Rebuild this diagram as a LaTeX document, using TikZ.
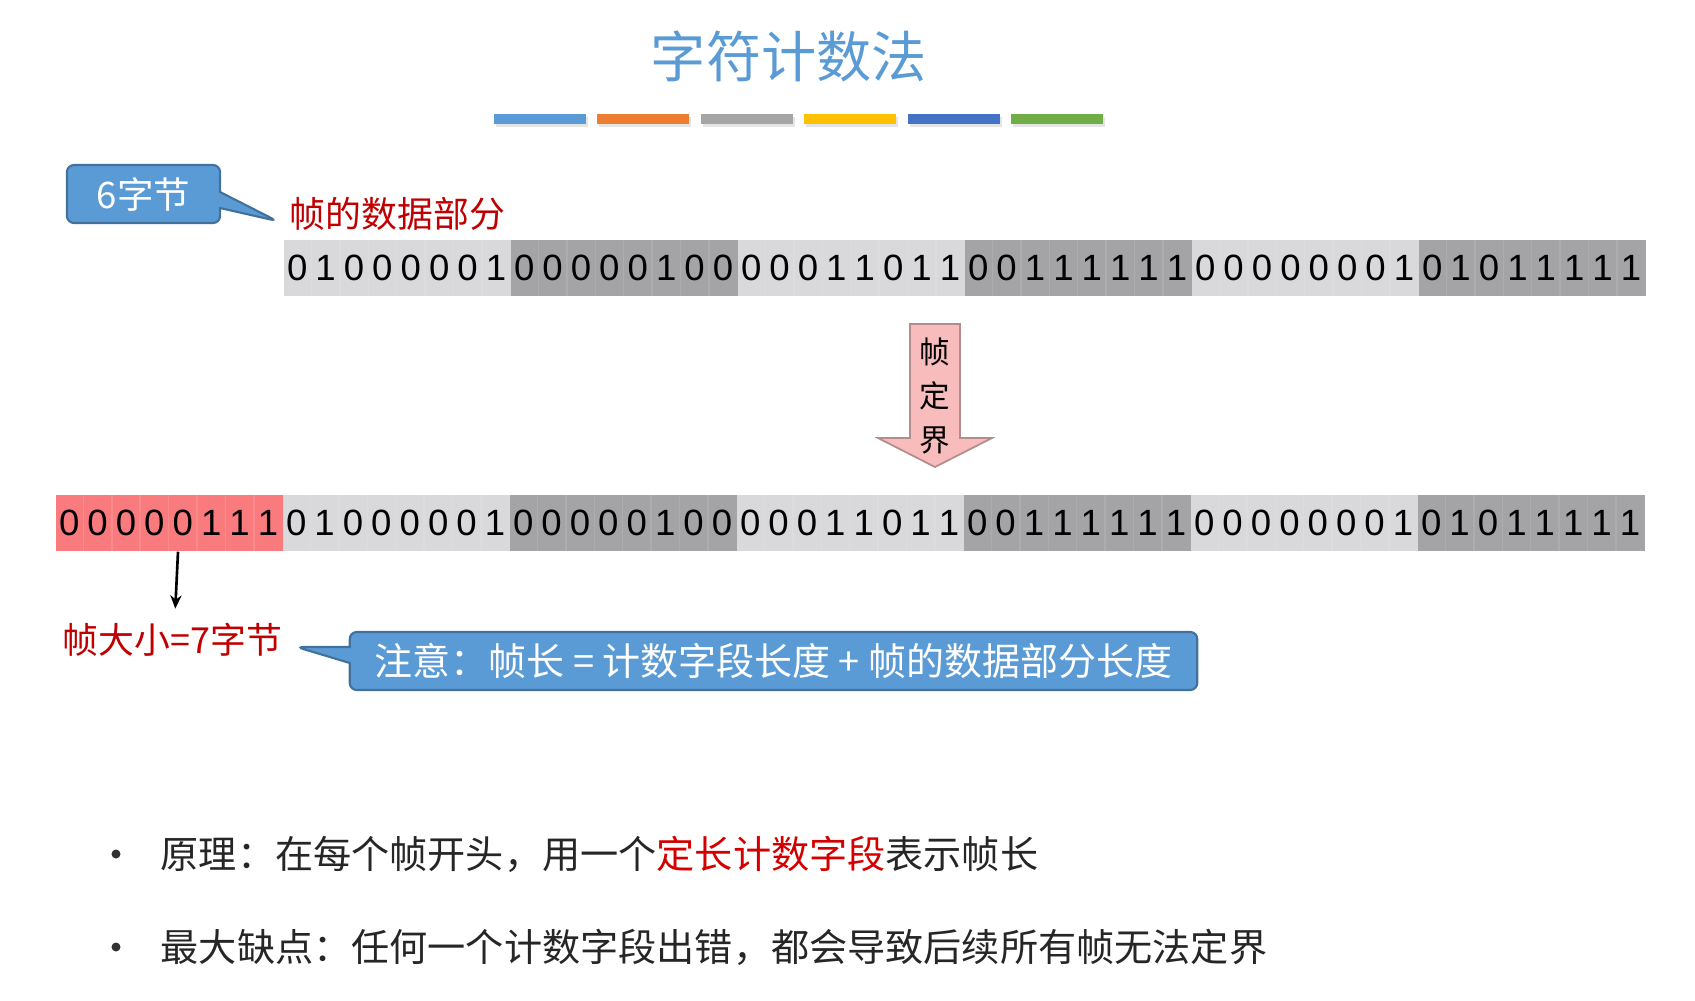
\documentclass[tikz,border=0pt]{standalone}
\usepackage{fontspec}
\setmainfont{Noto Sans CJK SC}
\newfontfamily\bitfont{Liberation Sans}
\usepackage{xcolor}
\usetikzlibrary{arrows.meta,positioning,calc,shapes.callouts}

\definecolor{ttlblue}{HTML}{5B9BD5}
\definecolor{boxblue}{HTML}{5B9BD5}
\definecolor{boxedge}{HTML}{41719C}
\definecolor{lgray}{HTML}{D9D8DB}
\definecolor{dgray}{HTML}{A4A3A6}
\definecolor{cntred}{HTML}{FA7B7E}
\definecolor{txtred}{HTML}{C00000}
\definecolor{hotred}{HTML}{D40000}
\definecolor{arrpink}{HTML}{F8BCBD}
\definecolor{arredge}{HTML}{B48C8C}
\definecolor{barblue}{HTML}{5B9BD5}
\definecolor{barorange}{HTML}{ED7D31}
\definecolor{bargray}{HTML}{A5A5A5}
\definecolor{baryellow}{HTML}{FFC000}
\definecolor{bardblue}{HTML}{4472C4}
\definecolor{bargreen}{HTML}{70AD47}

\begin{document}
\begin{tikzpicture}[x=0.01cm, y=-0.01cm, >={Stealth[length=3.8pt,width=3.2pt]},
  grp/.style={rectangle,minimum width=2.27cm,minimum height=0.56cm,inner sep=0pt,anchor=west},
  bit/.style={inner sep=0pt,font=\bitfont\fontsize{10.4}{12}\selectfont},
  callbox/.style={rectangle callout,rounded corners=0.07cm,fill=boxblue,draw=boxedge,
    line width=0.6pt,text=white,inner sep=0pt,callout pointer width=0.16cm},
  redlbl/.style={text=txtred,font=\fontsize{10.2}{12}\selectfont,inner sep=0pt},
  bullet/.style={anchor=west,inner sep=0pt,font=\fontsize{10.85}{13}\selectfont,text=black!85}]
  \useasboundingbox (0,0) rectangle (1695,1000);
  % Title and colour bars
  \node[font=\fontsize{15.7}{18}\selectfont,text=ttlblue] (title) at (789,56) {字符计数法};
  \foreach \c [count=\k] in {barblue,barorange,bargray,baryellow,bardblue,bargreen} {
    \fill[black!10] (496+\k*103.4-103.4,117) rectangle ++(92,10);
    \fill[\c] (494+\k*103.4-103.4,114) rectangle ++(92,10);
  }
  % Count field of the framed row
  \node[grp,fill=cntred] (b0) at (55,523) {};
  \foreach \b [count=\i] in {0,0,0,0,0,1,1,1} {
    \node[bit] (b0-\i) at (55+\i*28.4-14.2,523) {\b};
    \ifnum\i<8 \draw[white,opacity=0.12] (55+\i*28.4,495) -- ++(0,56); \fi
  }
  % Data bytes: top row t, framed row b
  \foreach \r/\y/\xa in {t/268/283,b/523/282} {
    \foreach \col/\bits [count=\k] in {lgray/{0,1,0,0,0,0,0,1},dgray/{0,0,0,0,0,1,0,0},
        lgray/{0,0,0,1,1,0,1,1},dgray/{0,0,1,1,1,1,1,1},lgray/{0,0,0,0,0,0,0,1},dgray/{0,1,0,1,1,1,1,1}} {
      \node[grp,fill=\col] (\r\k) at (\xa+\k*227-227,\y) {};
      \foreach \b [count=\i] in \bits {
        \node[bit] (\r\k-\i) at (\xa+\k*227-227+\i*28.4-14.2,\y) {\b};
        \ifnum\i<8 \draw[white,opacity=0.1] (\xa+\k*227-227+\i*28.4,\y-28) -- ++(0,56); \fi
      }
    }
  }
  % Data part label and its callout
  \node[redlbl,anchor=west] (datalbl) at (289,214) {帧的数据部分};
  \coordinate (tip6) at ($(datalbl.west)+(-12,7)$);
  \node[callbox,minimum width=1.53cm,minimum height=0.58cm,callout absolute pointer={(tip6)},
    font=\fontsize{10.4}{12}\selectfont] (six) at (143.5,194) {6字节};
  % Framing arrow
  \filldraw[fill=arrpink,draw=arredge,line width=0.5pt] (910,324) -- (960,324) -- (960,438)
    -- (992,438) -- (935,467) -- (878,438) -- (910,438) -- cycle;
  \node[align=center,inner sep=0pt,font=\fontsize{8.7}{12.5}\selectfont] (bound) at (935,396) {帧\\定\\界};
  % Frame size label and note
  \node[redlbl,anchor=west] (sizelbl) at (62,640) {帧大小=7字节};
  \draw[->,line width=0.75pt] ($(b0.south west)+(123,0)$) -- ($(sizelbl.north)+(3,-14)$);
  \coordinate (tipnote) at ($(sizelbl.east)+(14,7)$);
  \node[callbox,minimum width=8.47cm,minimum height=0.58cm,callout absolute pointer={(tipnote)},
    font=\fontsize{10.8}{12}\selectfont] (note) at (773.5,661) {注意：帧长 = 计数字段长度 + 帧的数据部分长度};
  % Bullets
  \node[circle,fill=black!80,inner sep=0pt,minimum size=0.09cm] (dot1) at (116,854) {};
  \node[bullet] (rule1) at (160,854) {原理：在每个帧开头，用一个\textcolor{hotred}{定长计数字段}表示帧长};
  \node[circle,fill=black!80,inner sep=0pt,minimum size=0.09cm] (dot2) at (116,947) {};
  \node[bullet] (rule2) at (160,947) {最大缺点：任何一个计数字段出错，都会导致后续所有帧无法定界};
\end{tikzpicture}
\end{document}
